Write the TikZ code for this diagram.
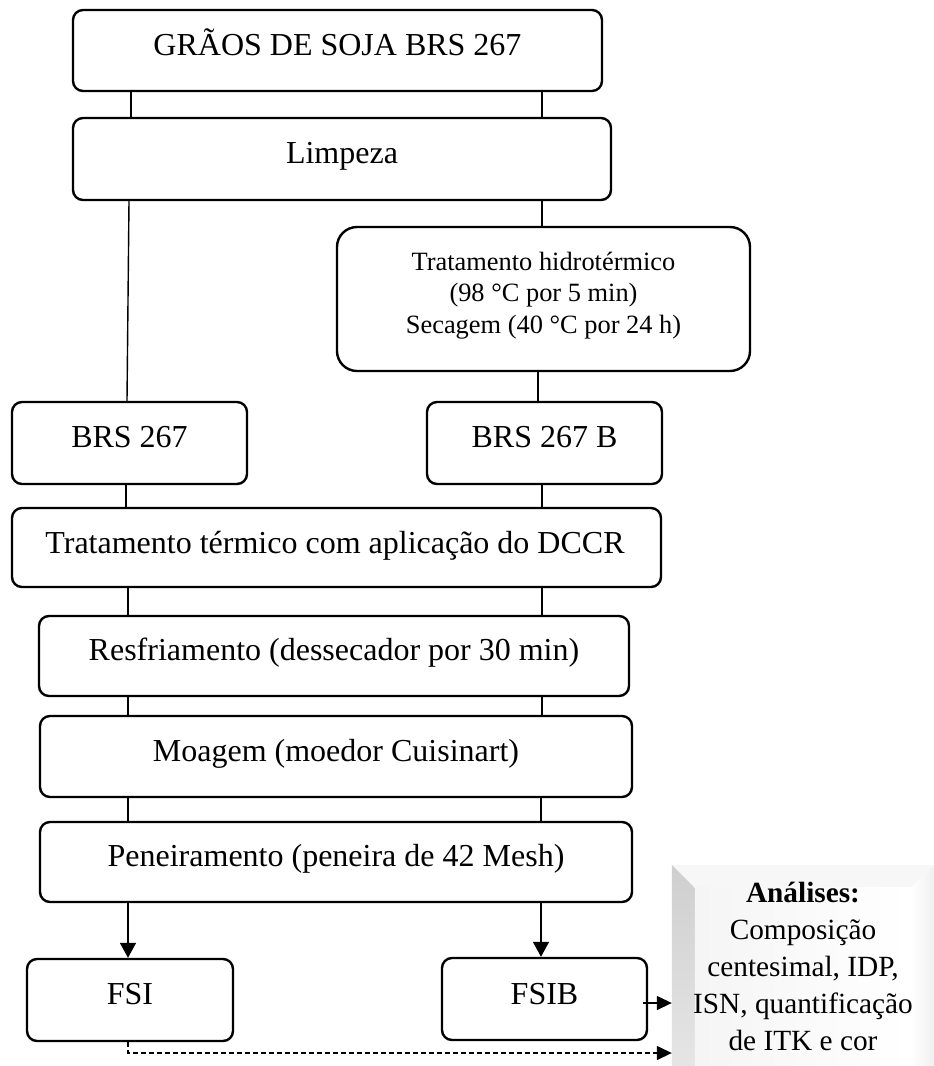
\documentclass[tikz,border=0pt]{standalone}
\usepackage{fontspec}
\setmainfont{Liberation Serif}
\usetikzlibrary{arrows.meta}

\begin{document}
\begin{tikzpicture}[x=1pt,y=-1pt,
  box/.style={draw, line width=2.4pt, rounded corners=10pt, fill=white, inner sep=0pt},
  bigbox/.style={box, rounded corners=20pt},
  maintxt/.style={anchor=base, inner sep=0pt, font=\fontsize{32pt}{37pt}\selectfont},
  smalltxt/.style={anchor=base, inner sep=0pt, font=\fontsize{26.4pt}{31.5pt}\selectfont},
  antxt/.style={anchor=base, inner sep=0pt, font=\fontsize{29.3pt}{37pt}\selectfont},
  conn/.style={line width=1.4pt},
  downarr/.style={line width=1.5pt, -{Triangle[width=16pt,length=15pt]}},
  sidearr/.style={line width=1.5pt, -{Triangle[width=14pt,length=15pt]}},
  dasharr/.style={sidearr, dash pattern=on 5pt off 3pt}]

\useasboundingbox (0,0) rectangle (934,1066);

% x positions of the vertical connectors
\coordinate (xa) at (131,0);
\coordinate (xb) at (542,0);
\coordinate (xc) at (129,0);
\coordinate (xd) at (127,0);
\coordinate (xe) at (538,0);
\coordinate (xf) at (126,0);
\coordinate (xg) at (128,0);
\coordinate (xh) at (541,0);
\coordinate (ydash) at (0,1053);

% process boxes
\node[box, minimum width=529pt, minimum height=81pt] (graos) at (337.5,50.5) {};
\node[box, minimum width=538pt, minimum height=82pt] (limpeza) at (342,159) {};
\node[bigbox, minimum width=413pt, minimum height=144pt] (hidro) at (543.5,299) {};
\node[box, minimum width=235pt, minimum height=82pt] (brs) at (129.5,443) {};
\node[box, minimum width=235pt, minimum height=82pt] (brsb) at (544.5,443) {};
\node[box, minimum width=649pt, minimum height=79pt] (termico) at (336.5,547.5) {};
\node[box, minimum width=590pt, minimum height=80pt] (resfr) at (334,656) {};
\node[box, minimum width=592pt, minimum height=81pt] (moagem) at (336,756.5) {};
\node[box, minimum width=592pt, minimum height=80pt] (peneir) at (336,862) {};
\node[box, minimum width=206pt, minimum height=82pt] (fsi) at (130,1000) {};
\node[box, minimum width=205pt, minimum height=82pt] (fsib) at (544.5,999) {};

% box texts
\node[maintxt] (graosT) at (337.5,55) {GRÃOS DE SOJA BRS 267};
\node[maintxt] (limpezaT) at (342,163) {Limpeza};
\node[smalltxt] (hidroA) at (543.5,270) {Tratamento hidrotérmico};
\node[smalltxt] (hidroB) at (543.5,301.5) {(98 °C por 5 min)};
\node[smalltxt] (hidroC) at (543.5,333) {Secagem (40 °C por 24 h)};
\node[maintxt] (brsT) at (129.5,447) {BRS 267};
\node[maintxt] (brsbT) at (544.5,447) {BRS 267 B};
\node[maintxt] (termicoT) at (335,553) {Tratamento térmico com aplicação do DCCR};
\node[maintxt] (resfrT) at (334,660) {Resfriamento (dessecador por 30 min)};
\node[maintxt] (moagemT) at (336,761) {Moagem (moedor Cuisinart)};
\node[maintxt] (peneirT) at (336,866) {Peneiramento (peneira de 42 Mesh)};
\node[maintxt] (fsiT) at (130,1004) {FSI};
\node[maintxt] (fsibT) at (544.5,1004) {FSIB};

% connectors between the boxes
\draw[conn] (graos.south -| xa) -- (limpeza.north -| xa);
\draw[conn] (graos.south -| xb) -- (limpeza.north -| xb);
\draw[conn] (limpeza.south -| xc) -- (brs.north -| xd);
\draw[conn] (limpeza.south -| xb) -- (hidro.north -| xb);
\draw[conn] (hidro.south -| xe) -- (brsb.north -| xe);
\draw[conn] (brs.south -| xf) -- (termico.north -| xf);
\draw[conn] (brsb.south -| xb) -- (termico.north -| xb);
\draw[conn] (termico.south -| xg) -- (resfr.north -| xg);
\draw[conn] (termico.south -| xb) -- (resfr.north -| xb);
\draw[conn] (resfr.south -| xg) -- (moagem.north -| xg);
\draw[conn] (resfr.south -| xb) -- (moagem.north -| xb);
\draw[conn] (moagem.south -| xg) -- (peneir.north -| xg);
\draw[conn] (moagem.south -| xh) -- (peneir.north -| xh);
\draw[downarr] (peneir.south -| xg) -- (fsi.north -| xg);
\draw[downarr] (peneir.south -| xh) -- (fsib.north -| xh);

% bevelled analysis panel
\node[minimum width=262pt, minimum height=201pt, inner sep=0pt] (anal) at (803,965.5) {};
\coordinate (anTL) at ([xshift=23pt,yshift=-23pt]anal.north west);
\coordinate (anTR) at ([xshift=-23pt,yshift=-23pt]anal.north east);
\fill[gray!6] (anal.north west) -- (anal.north east) -- (anTR) -- (anTL) -- cycle;
\shade[top color=gray!38, bottom color=gray!20] (anal.north west) -- (anTL) -- (anTL |- anal.south) -- (anal.south west) -- cycle;
\shade[left color=white, right color=gray!12] (anal.north east) -- (anTR) -- (anTR |- anal.south) -- (anal.south east) -- cycle;
\shade[left color=gray!8, right color=white] (anTL) -- (anTR) -- (anTR |- anal.south) -- (anTL |- anal.south) -- cycle;
\node[antxt] (anA) at (803,902) {\textbf{Análises:}};
\node[antxt] (anB) at (803,939) {Composição};
\node[antxt] (anC) at (803,976) {centesimal, IDP,};
\node[antxt] (anD) at (803,1013) {ISN, quantificação};
\node[antxt] (anE) at (803,1050) {de ITK e cor};

% links to the analysis panel
\draw[sidearr] ([xshift=-5pt,yshift=-4pt]fsib.east) -- ([yshift=-4pt]fsib.east -| anal.west);
\draw[dasharr] (fsi.south -| xg) |- (anal.west |- ydash);

\end{tikzpicture}
\end{document}
